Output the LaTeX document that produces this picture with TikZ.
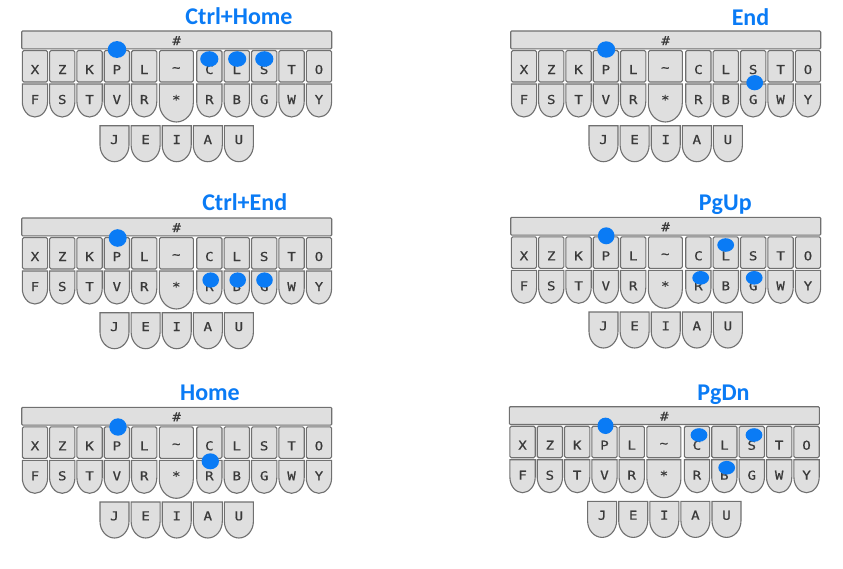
\documentclass[tikz,border=0pt]{standalone}
\usepackage{fontspec}
\newfontfamily\keyfont[FakeStretch=1.15,FakeBold=0.6]{DejaVu Sans Mono}
\newfontfamily\titlefont{Carlito}
\definecolor{keyfill}{HTML}{DFDFDF}
\definecolor{keyline}{HTML}{707070}
\definecolor{keytext}{HTML}{3A3A3A}
\definecolor{hiblue}{HTML}{0A7BF5}
\tikzset{
  keyst/.style={fill=keyfill, draw=keyline, line width=1.1pt},
  keylabel/.style={anchor=base, inner sep=0pt, font=\keyfont\fontsize{12.3}{12.3}\selectfont, text=keytext},
  keysym/.style={anchor=center, inner sep=0pt, font=\keyfont\fontsize{12.3}{12.3}\selectfont, text=keytext},
  titlelabel/.style={anchor=base, inner sep=0pt, font=\titlefont\bfseries\fontsize{24}{24}\selectfont, text=hiblue},
  dotst/.style={fill=hiblue},
}
% key with rounded (half-elliptic) bottom: x, top, width, bend, bottom
\newcommand\ukey[5]{%
  \pgfmathsetmacro\ukxr{#1+#3}%
  \pgfmathsetmacro\ukxm{#1+#3/2}%
  \pgfmathsetmacro\ukca{#4+0.5523*(#5-#4)}%
  \pgfmathsetmacro\ukcl{#1+#3/2*(1-0.5523)}%
  \pgfmathsetmacro\ukcr{#1+#3/2*(1+0.5523)}%
  \draw[keyst] (#1,#2) -- (#1,#4) .. controls (#1,\ukca) and (\ukcl,#5) .. (\ukxm,#5)
     .. controls (\ukcr,#5) and (\ukxr,\ukca) .. (\ukxr,#4) -- (\ukxr,#2) -- cycle;
}
\newcommand\kdot[4]{\fill[dotst] (#1,#2) ellipse [x radius=#3, y radius=#4];}
\newcommand\kbd[1]{%
  \draw[keyst, rounded corners=1pt] (0,0) rectangle (310,17.8);
  \node[keylabel] (#1-num) at (155,14) {\#};
  \foreach \T/\B [count=\i from 0] in {X/F,Z/S,K/T,P/V,L/R}{
    \pgfmathsetmacro\kx{0.6+27.3*\i}
    \pgfmathsetmacro\kc{\kx+12.65}
    \draw[keyst, rounded corners=1.5pt] (\kx,19.5) rectangle ++(25.3,31.5);
    \ukey{\kx}{53}{25.3}{70.5}{86}
    \node[keylabel] (#1-tl\i) at (\kc,43) {\T};
    \node[keylabel] (#1-bl\i) at (\kc,73) {\B};
  }
  \foreach \T/\B [count=\i from 0] in {C/R,L/B,S/G,T/W,O/Y}{
    \pgfmathsetmacro\kx{175+27.4*\i}
    \pgfmathsetmacro\kc{\kx+12.65}
    \draw[keyst, rounded corners=1.5pt] (\kx,19.5) rectangle ++(25.3,31.5);
    \ukey{\kx}{53}{25.3}{70.5}{86}
    \node[keylabel] (#1-tr\i) at (\kc,43) {\T};
    \node[keylabel] (#1-br\i) at (\kc,73) {\B};
  }
  \draw[keyst, rounded corners=1.5pt] (137.6,19.5) rectangle ++(34,31.5);
  \ukey{137.6}{53}{34}{72}{91}
  \node[keysym] (#1-tilde) at (154.6,38.5) {\textasciitilde};
  \node[keysym] (#1-star) at (154.6,68.5) {*};
  \foreach \V [count=\i from 0] in {J,E,I,A,U}{
    \pgfmathsetmacro\kx{78.3+31.1*\i}
    \pgfmathsetmacro\kc{\kx+14.5}
    \ukey{\kx}{94.7}{29}{114}{130.7}
    \node[keylabel] (#1-v\i) at (\kc,113) {\V};
  }
}
\begin{document}
\begin{tikzpicture}[x=1pt,y=-1pt]
\useasboundingbox (0,0) rectangle (843,568);
\fill[white] (0,0) rectangle (843,568);

% Ctrl+Home
\begin{scope}[shift={(21.7,31)}]
  \kbd{a}
  \kdot{95.3}{18.5}{9.3}{8.4}
  \kdot{187.6}{28}{9.1}{7.8}
  \kdot{215.5}{28}{9.1}{7.8}
  \kdot{242.6}{28}{9.1}{7.8}
\end{scope}
\node[titlelabel] (t1) at (239,24) {Ctrl+Home};

% End
\begin{scope}[shift={(510.7,31)}]
  \kbd{b}
  \kdot{95.5}{18.5}{9}{8.2}
  \kdot{244}{51.7}{8.4}{7.6}
\end{scope}
\node[titlelabel] (t2) at (750.5,25) {End};

% Ctrl+End
\begin{scope}[shift={(21.7,218)}]
  \kbd{c}
  \kdot{96}{20}{9}{8.8}
  \kdot{189}{62}{8.3}{7.6}
  \kdot{216}{62}{8.3}{7.6}
  \kdot{242.8}{62}{8.3}{7.6}
\end{scope}
\node[titlelabel] (t3) at (244.7,210.7) {Ctrl+End};

% PgUp
\begin{scope}[shift={(510.7,217.3)}]
  \kbd{d}
  \kdot{95.5}{18.5}{8.3}{8.5}
  \kdot{215}{27.7}{8.4}{6.8}
  \kdot{190}{60.5}{8.4}{6.8}
  \kdot{243.5}{60.5}{8.4}{6.8}
\end{scope}
\node[titlelabel] (t4) at (725.3,210) {PgUp};

% Home
\begin{scope}[shift={(21.7,407.3)}]
  \kbd{e}
  \kdot{96.3}{19.7}{8.7}{8.7}
  \kdot{188.6}{54}{8.7}{8}
\end{scope}
\node[titlelabel] (t5) at (210,400) {Home};

% PgDn
\begin{scope}[shift={(509.3,406.7)}]
  \kbd{f}
  \kdot{96.2}{19.1}{8}{8.2}
  \kdot{189.7}{28.3}{8.4}{6.8}
  \kdot{244.7}{28.3}{8.4}{6.8}
  \kdot{217.4}{61}{8.4}{6.8}
\end{scope}
\node[titlelabel] (t6) at (723.5,400) {PgDn};
\end{tikzpicture}
\end{document}
